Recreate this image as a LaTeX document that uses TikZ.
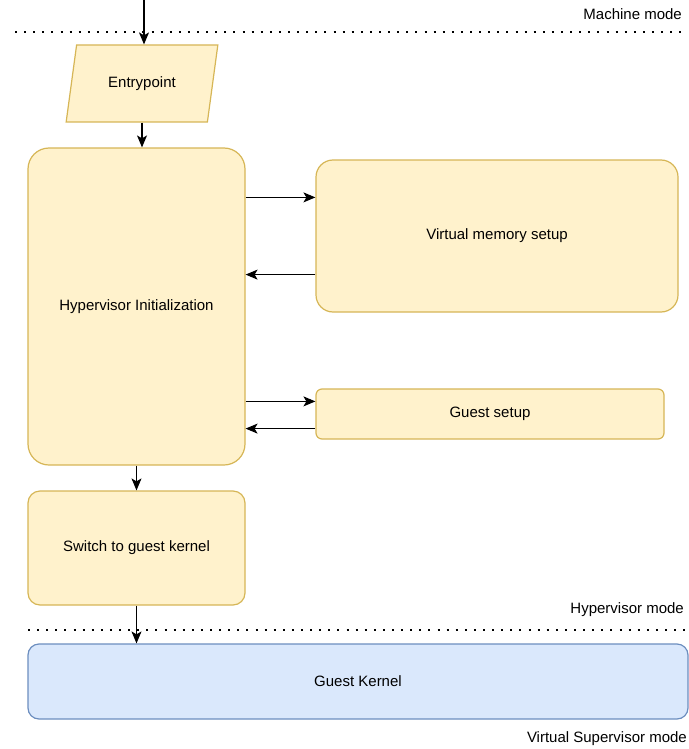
\documentclass[tikz,border=0pt]{standalone}
\usepackage{fontspec}
\setmainfont{Liberation Sans}
\usetikzlibrary{arrows.meta,shapes.geometric,positioning}
\definecolor{noteyellow}{HTML}{FFF2CC}
\definecolor{noteline}{HTML}{D6B656}
\definecolor{kernelblue}{HTML}{DAE8FC}
\definecolor{kernelline}{HTML}{6C8EBF}
\tikzset{
  stepbox/.style={draw=noteline, fill=noteyellow, line width=1.2pt, align=center},
  arr/.style={-{Stealth[length=12pt,width=10pt,inset=3pt]}, line width=1.1pt},
  modeline/.style={line width=2.2pt, dash pattern=on 2pt off 7.1pt},
  modelabel/.style={anchor=east, inner sep=0pt}
}

\begin{document}
\begin{tikzpicture}[x=1pt, y=-1pt, every node/.style={font=\fontsize{15}{18}\selectfont}]
  \useasboundingbox (0,0) rectangle (688,749);
  % mode boundaries
  \draw[modeline] (15,32) -- (688,32);
  \draw[modeline] (28,630) -- (688,630);
  \node[modelabel] (machine) at (682,14) {Machine mode};
  \node[modelabel] (hypmode) at (684,610) {Hypervisor mode};
  \node[modelabel] (vsmode) at (687,739) {Virtual Supervisor mode};
  % boxes
  \node[stepbox, trapezium, trapezium left angle=74, trapezium right angle=106,
        trapezium stretches=true, minimum width=152pt, minimum height=77pt] (entry) at (142,83.5) {Entrypoint};
  \node[stepbox, rounded corners=21pt, minimum width=217pt, minimum height=317pt] (init) at (136.5,306.5) {Hypervisor Initialization};
  \node[stepbox, rounded corners=17pt, minimum width=362pt, minimum height=152pt] (vmem) at (497,236) {Virtual memory setup};
  \node[stepbox, rounded corners=6pt, minimum width=348pt, minimum height=50pt] (gsetup) at (490,414) {Guest setup};
  \node[stepbox, rounded corners=12pt, minimum width=217pt, minimum height=114pt] (switch) at (136.5,548) {Switch to guest kernel};
  \node[draw=kernelline, fill=kernelblue, line width=1.2pt, rounded corners=11pt,
        minimum width=660pt, minimum height=75pt] (kernel) at (358,681.5) {Guest Kernel};
  % connectors
  \coordinate (start) at (144,0);
  \coordinate (vmin) at ([yshift=-38pt]vmem.north west);
  \coordinate (vmout) at ([yshift=38pt]vmem.south west);
  \coordinate (gsin) at ([yshift=-13pt]gsetup.north west);
  \coordinate (gsout) at ([yshift=11pt]gsetup.south west);
  \draw[arr] (start) -- (start |- entry.north);
  \draw[arr] (entry.south) -- (entry.south |- init.north);
  \draw[arr] (init.east |- vmin) -- (vmin);
  \draw[arr] (vmout) -- (init.east |- vmout);
  \draw[arr] (init.east |- gsin) -- (gsin);
  \draw[arr] (gsout) -- (init.east |- gsout);
  \draw[arr] (init.south) -- (switch.north);
  \draw[arr] (switch.south) -- (switch.south |- kernel.north);
\end{tikzpicture}
\end{document}
